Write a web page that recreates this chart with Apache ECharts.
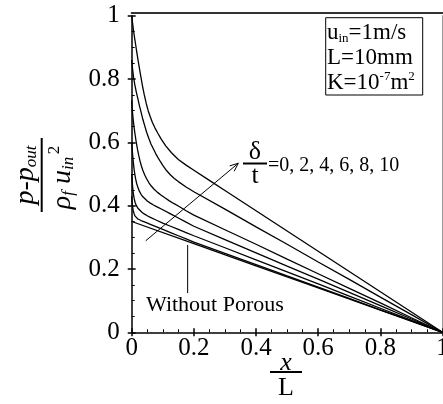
<!DOCTYPE html>
<html><head><meta charset="utf-8">
<script src="https://cdn.jsdelivr.net/npm/echarts@6.0.0/dist/echarts.min.js"></script>
<style>html,body{margin:0;padding:0;background:#fff}#c{width:443px;height:404px}</style>
</head><body><div id="c"></div>
<script>
// Data (x/L, (p-p_out)/(rho_f u_in^2))
const dt10 = [[0,1.0],[0.003,0.975],[0.006,0.952],[0.009,0.932],[0.012,0.913],[0.016,0.887],[0.02,0.862],[0.025,0.833],[0.029,0.81],[0.035,0.777],[0.04,0.752],[0.047,0.722],[0.053,0.70],[0.06,0.68],[0.067,0.662],[0.075,0.645],[0.085,0.627],[0.095,0.61],[0.11,0.588],[0.128,0.567],[0.15,0.546],[0.175,0.528],[0.2,0.512],[0.25,0.48],[0.3,0.448],[0.4,0.384],[0.5,0.32],[0.6,0.256],[0.7,0.192],[0.8,0.128],[0.9,0.064],[1,0]];
const dt8 = [[0,0.86],[0.003,0.83],[0.006,0.805],[0.01,0.782],[0.015,0.758],[0.02,0.737],[0.025,0.715],[0.03,0.696],[0.036,0.672],[0.042,0.652],[0.048,0.632],[0.055,0.613],[0.062,0.595],[0.07,0.579],[0.078,0.563],[0.085,0.551],[0.093,0.538],[0.1,0.527],[0.112,0.511],[0.125,0.497],[0.137,0.486],[0.15,0.476],[0.175,0.459],[0.2,0.444],[0.3,0.389],[0.4,0.333],[0.5,0.278],[0.6,0.222],[0.7,0.167],[0.8,0.111],[0.9,0.056],[1,0]];
const dt6 = [[0,0.733],[0.002,0.7],[0.005,0.67],[0.008,0.645],[0.011,0.624],[0.015,0.598],[0.019,0.576],[0.023,0.557],[0.027,0.54],[0.031,0.526],[0.036,0.511],[0.042,0.497],[0.048,0.485],[0.055,0.473],[0.063,0.462],[0.072,0.452],[0.083,0.442],[0.095,0.433],[0.108,0.424],[0.12,0.416],[0.135,0.407],[0.15,0.399],[0.175,0.384],[0.2,0.37],[0.3,0.324],[0.4,0.278],[0.5,0.231],[0.6,0.185],[0.7,0.139],[0.8,0.093],[0.9,0.046],[1,0]];
const dt4 = [[0,0.6],[0.002,0.572],[0.004,0.55],[0.006,0.53],[0.008,0.513],[0.01,0.499],[0.013,0.483],[0.016,0.47],[0.02,0.457],[0.025,0.445],[0.03,0.436],[0.036,0.428],[0.042,0.422],[0.05,0.415],[0.06,0.408],[0.07,0.402],[0.08,0.397],[0.1,0.387],[0.125,0.374],[0.15,0.361],[0.175,0.348],[0.2,0.335],[0.3,0.293],[0.4,0.251],[0.5,0.209],[0.6,0.168],[0.7,0.126],[0.8,0.084],[0.9,0.042],[1,0]];
const dt2 = [[0,0.5],[0.002,0.47],[0.004,0.45],[0.006,0.434],[0.008,0.422],[0.011,0.41],[0.015,0.4],[0.02,0.392],[0.025,0.386],[0.032,0.38],[0.04,0.374],[0.05,0.368],[0.06,0.363],[0.08,0.354],[0.1,0.345],[0.125,0.335],[0.15,0.325],[0.175,0.315],[0.2,0.305],[0.3,0.267],[0.4,0.229],[0.5,0.191],[0.6,0.153],[0.7,0.114],[0.8,0.076],[0.9,0.038],[1,0]];
const dt0 = [[0,0.43],[0.0015,0.41],[0.003,0.396],[0.005,0.384],[0.008,0.374],[0.011,0.367],[0.015,0.362],[0.02,0.358],[0.03,0.353],[0.045,0.347],[0.06,0.341],[0.08,0.333],[0.1,0.325],[0.125,0.315],[0.15,0.305],[0.175,0.295],[0.2,0.285],[0.3,0.249],[0.4,0.214],[0.5,0.178],[0.6,0.143],[0.7,0.107],[0.8,0.071],[0.9,0.036],[1,0]];
const noPorous = [[0,0.35],[0.2,0.28],[0.4,0.21],[0.6,0.14],[0.8,0.07],[1,0]];
const deltaValues = '=0, 2, 4, 6, 8, 10';
const arrowFrom = [0.045, 0.289];
const arrowTo = [0.343, 0.534];
const pointerX = 0.18, pointerTop = 0.276, pointerBottom = 0.124;

const SERIF = '"Liberation Serif", "Times New Roman", serif';
const chart = echarts.init(document.getElementById('c'), null, {renderer:'canvas'});

function mkSeries(d){
  return {type:'line', data:d, symbol:'none', smooth:false,
    lineStyle:{color:'#000', width:1.3}, silent:true, animation:false};
}
const axBase = {type:'value', min:0, max:1, interval:0.2, splitLine:{show:false}};
chart.setOption({
  animation:false,
  grid:{left:131.7, right:0.5, top:15.7, bottom:71.7, containLabel:false, outerBoundsMode:'none'},
  xAxis:[
    Object.assign({}, axBase, {position:'bottom',
      axisLine:{show:true, onZero:false, lineStyle:{color:'#000', width:1.5}},
      axisTick:{show:true, inside:true, length:4, lineStyle:{color:'#000', width:1.5}},
      minorTick:{show:true, splitNumber:4, length:3, lineStyle:{color:'#000', width:1}},
      axisLabel:{show:true, color:'#000', fontFamily:SERIF, fontSize:25, margin:4}}),
    Object.assign({}, axBase, {position:'bottom',
      axisLine:{show:false, onZero:false},
      axisTick:{show:true, inside:false, length:4, lineStyle:{color:'#000', width:1.5}},
      axisLabel:{show:false}}),
    Object.assign({}, axBase, {position:'top', offset:3,
      axisLine:{show:true, onZero:false, lineStyle:{color:'#333', width:2}},
      axisTick:{show:false}, axisLabel:{show:false}})
  ],
  yAxis:[
    Object.assign({}, axBase, {position:'left',
      axisLine:{show:true, onZero:false, lineStyle:{color:'#000', width:1.5}},
      axisTick:{show:true, inside:true, length:4, lineStyle:{color:'#000', width:1.5}},
      minorTick:{show:true, splitNumber:4, length:3, lineStyle:{color:'#000', width:1}},
      axisLabel:{show:true, color:'#000', fontFamily:SERIF, fontSize:25, margin:12}}),
    Object.assign({}, axBase, {position:'left',
      axisLine:{show:false, onZero:false},
      axisTick:{show:true, inside:false, length:4, lineStyle:{color:'#000', width:1.5}},
      axisLabel:{show:false}}),
    Object.assign({}, axBase, {position:'right',
      axisLine:{show:true, onZero:false, lineStyle:{color:'#999', width:1}},
      axisTick:{show:false}, axisLabel:{show:false}})
  ],
  series:[dt10, dt8, dt6, dt4, dt2, dt0, noPorous].map(mkSeries)
});

const P = v => chart.convertToPixel({gridIndex:0}, v);
const a0 = P(arrowFrom), a1 = P(arrowTo);
const ang = Math.atan2(a1[1]-a0[1], a1[0]-a0[0]);
const hl = 9, ha = 0.4;
const h1 = [a1[0]-hl*Math.cos(ang-ha), a1[1]-hl*Math.sin(ang-ha)];
const h2 = [a1[0]-hl*Math.cos(ang+ha), a1[1]-hl*Math.sin(ang+ha)];
const p0 = P([pointerX, pointerTop]), p1 = P([pointerX, pointerBottom]);

const txt = (x,y,text,size,extra) => ({type:'text', x:x, y:y, silent:true,
  style:Object.assign({text:text, fill:'#000', font:size+'px '+SERIF, textAlign:'center', textVerticalAlign:'middle'}, extra||{})});

chart.setOption({graphic:[
  {type:'line', silent:true, shape:{x1:a0[0],y1:a0[1],x2:a1[0],y2:a1[1]}, style:{stroke:'#000', lineWidth:1}},
  {type:'polyline', silent:true, shape:{points:[h1,a1,h2]}, style:{stroke:'#000', lineWidth:1, fill:null}},
  {type:'line', silent:true, shape:{x1:p0[0],y1:p0[1],x2:p1[0],y2:p1[1]}, style:{stroke:'#000', lineWidth:1}},
  txt(146, 305, 'Without Porous', 22, {textAlign:'left'}),
  // delta / t
  txt(255, 152, 'δ', 26),
  {type:'line', silent:true, shape:{x1:243,y1:163.5,x2:267,y2:163.5}, style:{stroke:'#000', lineWidth:2}},
  txt(255, 176, 't', 26),
  txt(268, 166, deltaValues, 20, {textAlign:'left'}),
  // parameter box
  {type:'rect', silent:true, shape:{x:325.7, y:17.7, width:97, height:77.3}, style:{stroke:'#000', lineWidth:1, fill:'#fff'}},
  {type:'text', x:327, y:20, silent:true, style:{
    text:'{a|u}{sub|in}{a|=1m/s}\n{a|L=10mm}\n{a|K=10}{sup|-7}{a|m}{sup|2}',
    fill:'#000', textAlign:'left', textVerticalAlign:'top',
    rich:{
      a:{fontSize:23, fontFamily:SERIF, lineHeight:25, fill:'#000'},
      sub:{fontSize:13, fontFamily:SERIF, lineHeight:13, verticalAlign:'bottom', fill:'#000'},
      sup:{fontSize:13, fontFamily:SERIF, lineHeight:13, verticalAlign:'top', fill:'#000'}
    }}},
  // x title
  txt(286, 363, 'x', 26, {font:'italic 26px '+SERIF}),
  {type:'line', silent:true, shape:{x1:270,y1:372,x2:302,y2:372}, style:{stroke:'#000', lineWidth:2}},
  txt(286, 388, 'L', 26),
  // y title (rotated)
  {type:'group', x:41.7, y:175, rotation:Math.PI/2, silent:true, children:[
    {type:'line', shape:{x1:-37,y1:0,x2:37,y2:0}, style:{stroke:'#000', lineWidth:2}},
    {type:'text', x:0, y:-16, style:{text:'{i|p-p}{s|out}', textAlign:'center', textVerticalAlign:'middle', fill:'#000',
      rich:{i:{font:'italic 28px '+SERIF, lineHeight:28, fill:'#000'}, s:{font:'italic 17px '+SERIF, lineHeight:17, verticalAlign:'bottom', fill:'#000'}}}},
    {type:'text', x:-8, y:21, style:{text:'{i|ρ}{s|f}{i| u}{s|in}', textAlign:'center', textVerticalAlign:'middle', fill:'#000',
      rich:{i:{font:'italic 28px '+SERIF, lineHeight:28, fill:'#000'}, s:{font:'italic 17px '+SERIF, lineHeight:17, verticalAlign:'bottom', fill:'#000'}}}},
    {type:'text', x:25, y:13, style:{text:'2', font:'17px '+SERIF, textAlign:'center', textVerticalAlign:'middle', fill:'#000'}}
  ]}
]});
</script></body></html>
